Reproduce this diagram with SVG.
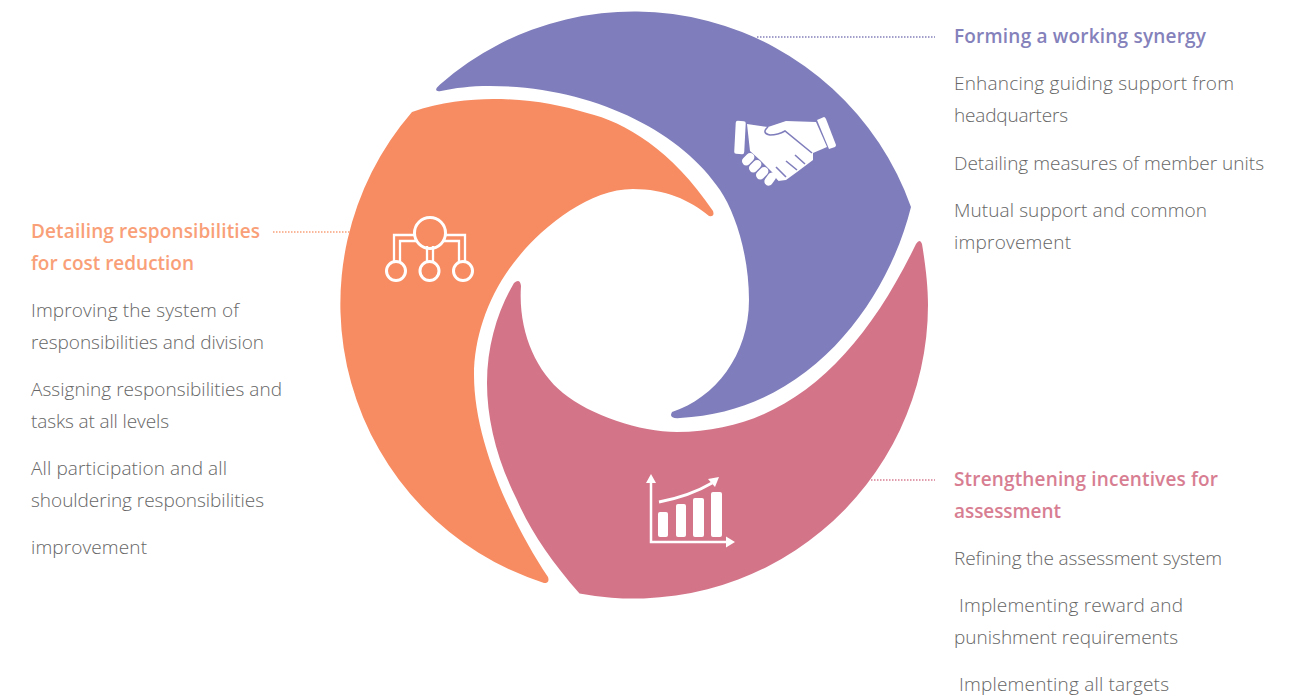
<svg xmlns="http://www.w3.org/2000/svg" width="1300" height="699" viewBox="0 0 1300 699">
<style>
text{font-family:"Open Sans","Liberation Sans",sans-serif;font-size:19px;font-weight:300;fill:#666}
.h{font-weight:600;font-size:19px}
.ic{fill:none;stroke:#fff;stroke-width:2.300}
.w{fill:#fff}
.dot{fill:none;stroke-width:1.5;stroke-dasharray:1.5 1.5}
</style>
<rect width="1300" height="699" fill="#fff"/>
<g id="connectors">
<path class="dot" stroke="#8481bb" d="M757 37H935"/>
<path class="dot" stroke="#f9a078" d="M273 232H350"/>
<path class="dot" stroke="#d87e92" d="M871 480H935"/>
</g>
<g id="node-synergy">
<path fill="#7f7dbb" d="M440 84.500A294 294 0 0 1 911 207C888 300 810 412 680 418Q668 419 672 412C715 398 749 355 749 300C749 255 735 212 720 190C680 130 590 86 490 86C470 86 455 88 441 91Q434 92 437 87.500Z"/>
<g>
<rect class="w" x="735" y="121" width="10" height="33" rx="2" transform="rotate(3 740 137)"/>
<path class="w" d="M817 120L824 117Q825 117 826 119L836 145Q836 146 835 147L829 149Z"/>
<path class="w" d="M747 124L768 127L786 121L816 122L827 147L813 153L813 160L805 166L797 172L786 180L778 181L772 172L760 160L750 151Z"/>
<g fill="none" stroke="#7f7dbb" stroke-width="1.600">
<path d="M768 127Q761 133 770 135Q778 135 785 131L812 153"/>
<path d="M795 155L805 164M786 161L797 170M776 167L786 177"/>
<path stroke-width="2.500" d="M745 152L780 184"/>
</g>
<g class="w">
<rect x="741" y="155" width="14" height="8.500" rx="4.200" transform="rotate(-45 748 159)"/>
<rect x="748" y="162" width="14" height="8.500" rx="4.200" transform="rotate(-45 755 166)"/>
<rect x="755" y="169" width="14" height="8.500" rx="4.200" transform="rotate(-45 762 173)"/>
<rect x="763" y="175" width="14" height="8.500" rx="4.200" transform="rotate(-55 770 179)"/>
</g>
</g>
<text class="h" x="954" y="43" style="fill:#8481bb" textLength="252">Forming a working synergy</text>
<text x="954" y="90" textLength="280">Enhancing guiding support from</text>
<text x="954" y="122" textLength="114">headquarters</text>
<text x="954" y="170" textLength="310">Detailing measures of member units</text>
<text x="954" y="217" textLength="253">Mutual support and common</text>
<text x="954" y="249" textLength="117">improvement</text>
</g>
<g id="node-responsibilities">
<path fill="#f78c62" d="M412 112C440 102 470 99 493 99C530 99 560 105 587 113C625 122 672 150 713 211Q715 217 709 216C690 200 665 189 633 189C590 189 545 225 520 255C490 290 474 335 474 375C474 440 510 520 548 577Q550 583 544 583A293 293 0 0 1 412 112Z"/>
<g>
<g class="ic">
<circle cx="430" cy="233" r="15.500" style="stroke-width:3"/>
<circle cx="396" cy="271" r="9.500" style="stroke-width:3"/>
<circle cx="429.500" cy="271" r="9.500" style="stroke-width:3"/>
<circle cx="463" cy="271" r="9.500" style="stroke-width:3"/>
<path d="M415 235H394V262M416 241H400V262M427 246V262M433 246V262M445 235H465V262M444 241H459V262"/>
</g>
</g>
<text class="h" x="31" y="238" style="fill:#f9a078" textLength="229">Detailing responsibilities</text>
<text class="h" x="31" y="270" style="fill:#f9a078" textLength="163">for cost reduction</text>
<text x="31" y="317" textLength="208">Improving the system of</text>
<text x="31" y="349" textLength="233">responsibilities and division</text>
<text x="31" y="396" textLength="251">Assigning responsibilities and</text>
<text x="31" y="428" textLength="138">tasks at all levels</text>
<text x="31" y="475" textLength="196">All participation and all</text>
<text x="31" y="507" textLength="233">shouldering responsibilities</text>
<text x="31" y="554" textLength="116">improvement</text>
</g>
<g id="node-assessment">
<path fill="#d37489" d="M916 244Q920 238 922 244C925 262 928 285 928 305A294 294 0 0 1 579.500 593.500C550 560 530 530 517 500C497 460 487 420 487 383C487 345 498 310 514 283Q520 278 521 286C518 330 535 370 563 393C590 415 640 432 677 432C785 432 860 360 916 244Z"/>
<g>
<g class="w">
<rect x="658" y="512" width="10" height="25" rx="2"/>
<rect x="676" y="504" width="10" height="33" rx="2"/>
<rect x="693" y="498" width="11" height="39" rx="2"/>
<rect x="711" y="492" width="11" height="45" rx="2"/>
<path d="M651 474L656 483H646ZM735 542L726 547.500V536.500ZM708 479L719 477L715 487Z"/>
</g>
<path class="ic" style="stroke-width:2.500" d="M651 480V542H728"/>
<path class="ic" style="stroke-width:3" d="M659 502Q690 496 712 483"/>
</g>
<text class="h" x="954" y="486" style="fill:#d87e92" textLength="264">Strengthening incentives for</text>
<text class="h" x="954" y="518" style="fill:#d87e92" textLength="107">assessment</text>
<text x="954" y="565" textLength="268">Refining the assessment system</text>
<text x="959" y="612" textLength="224">Implementing reward and</text>
<text x="954" y="644" textLength="224">punishment requirements</text>
<text x="959" y="691" textLength="210">Implementing all targets</text>
</g>
</svg>
